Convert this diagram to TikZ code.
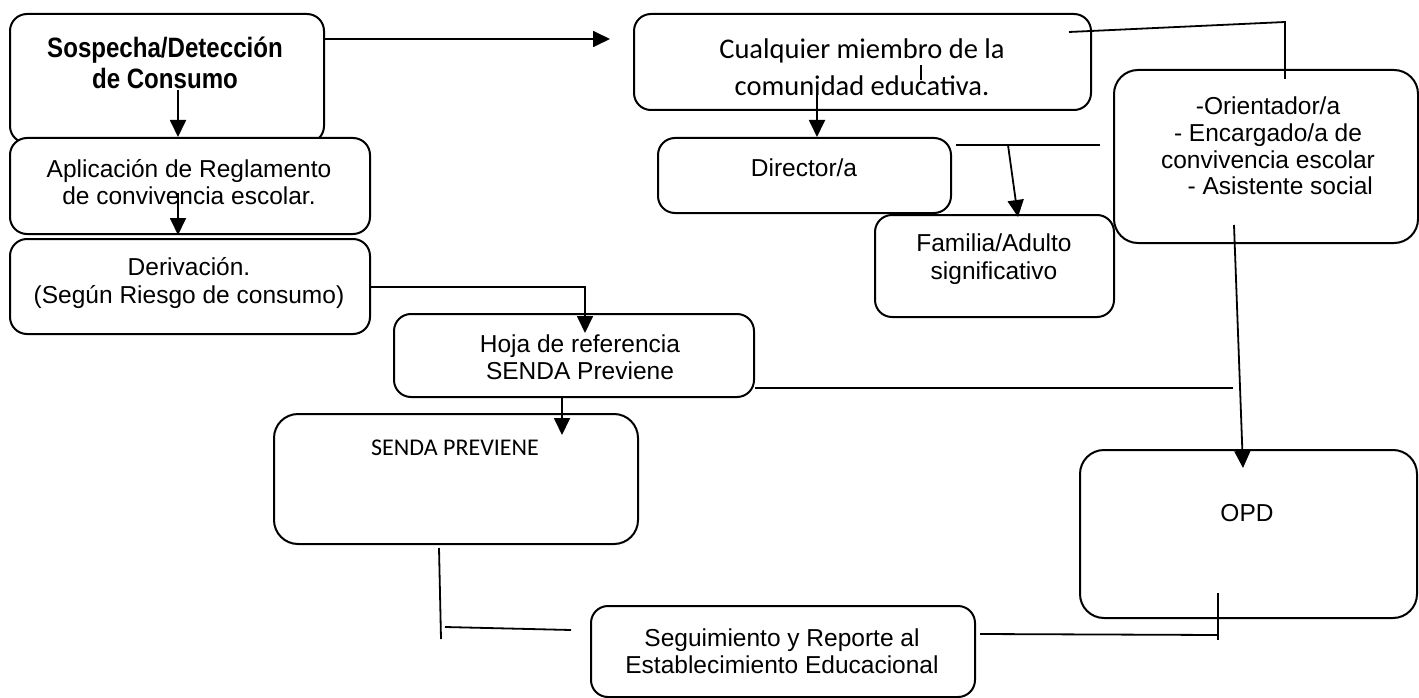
\documentclass[tikz,border=0pt]{standalone}
\usepackage{fontspec}
\setmainfont{Liberation Sans}
\newfontfamily\calib{Carlito}
\usetikzlibrary{arrows.meta}
\tikzset{
  box/.style={draw, line width=2pt, rounded corners=17pt, fill=white, inner sep=0pt, anchor=north west},
  bigbox/.style={box, rounded corners=24pt},
  txt/.style={align=center, inner sep=0pt, font=\fontsize{24.5}{27.5}\selectfont},
  cal/.style={align=center, inner sep=0pt, font=\calib\fontsize{28.5}{37}\selectfont},
  conn/.style={line width=1.8pt},
  arr/.style={line width=1.8pt, -{Triangle[length=17pt,width=16pt]}}
}
\begin{document}
\begin{tikzpicture}[x=1pt,y=-1pt]
\useasboundingbox (0,0) rectangle (1419,698);
\fill[white] (0,0) rectangle (1419,698);

% boxes
\node[box, minimum width=314pt, minimum height=129pt] (sosp) at (9,13) {};
\node[box, minimum width=360pt, minimum height=96pt] (apl) at (9,137) {};
\node[box, minimum width=360pt, minimum height=95pt] (der) at (9,238) {};
\node[box, minimum width=457pt, minimum height=96pt] (cual) at (633,13) {};
\node[box, minimum width=293pt, minimum height=75pt] (dir) at (657,137) {};
\node[box, minimum width=239pt, minimum height=102pt] (fam) at (874,214) {};
\node[bigbox, minimum width=304pt, minimum height=173pt] (ori) at (1113,69) {};
\node[box, minimum width=360pt, minimum height=83pt] (hoja) at (393,313) {};
\node[bigbox, minimum width=364pt, minimum height=130pt] (senda) at (273,413) {};
\node[bigbox, minimum width=337pt, minimum height=168pt] (opd) at (1079,449) {};
\node[box, minimum width=384pt, minimum height=91pt] (seg) at (590,605) {};

% texts
\node[align=center, inner sep=0pt, font=\bfseries\fontsize{28}{32}\selectfont] (tsosp) at (165,67)
  {\scalebox{0.86}[1]{\begin{tabular}{@{}c@{}}Sospecha/Detección\\[-1pt] de Consumo\end{tabular}}};
\node[txt] (tapl) at (189,182) {Aplicación de Reglamento\\de convivencia escolar.};
\node[txt] (tder) at (189,283) {Derivación.\\(Según Riesgo de consumo)};
\node[cal] (tcual) at (862,67) {Cualquier miembro de la\\comunidad educativa.};
\node[txt] (tdir) at (804,168) {Director/a};
\node[txt] (tfam) at (994,259) {Familia/Adulto\\significativo};
\node[txt, font=\fontsize{24.5}{26.7}\selectfont] (tori) at (1268,146)
  {-Orientador/a\\- Encargado/a de\\convivencia escolar\\\hspace*{1em}- Asistente social};
\node[txt] (thoja) at (580,357) {Hoja de referencia\\SENDA Previene};
\node[align=center, inner sep=0pt, font=\calib\fontsize{24}{28}\selectfont] (tsenda) at (455,448) {SENDA PREVIENE};
\node[txt] (topd) at (1247,513) {OPD};
\node[txt] (tseg) at (782,651) {Seguimiento y Reporte al\\Establecimiento Educacional};

% helper coordinates
\coordinate (a1) at (178,90);
\coordinate (a2) at (178,193);
\coordinate (a3s) at (323,39);
\coordinate (a3e) at (610,39);
\coordinate (a4) at (817,93);
\coordinate (l5a) at (1069,32);
\coordinate (l5b) at (1285,22);
\coordinate (l5c) at (1285,79);
\coordinate (tk1) at (921,65);
\coordinate (tk2) at (921,80);
\coordinate (d1) at (956,145);
\coordinate (d2) at (1100,145);
\coordinate (d3) at (1008,145);
\coordinate (d4) at (1018,217);
\coordinate (o1) at (1234,225);
\coordinate (o2) at (1243,468);
\coordinate (h1) at (369,287);
\coordinate (h2) at (585,287);
\coordinate (h3) at (585,333);
\coordinate (s1) at (562,396);
\coordinate (s2) at (562,435);
\coordinate (r1) at (753,388);
\coordinate (r2) at (1233,388);
\coordinate (v1) at (439,548);
\coordinate (v2) at (441,639);
\coordinate (w1) at (445,627);
\coordinate (w2) at (571,630);
\coordinate (e1) at (980,634);
\coordinate (e2) at (1218,635);
\coordinate (f1) at (1218,593);
\coordinate (f2) at (1218,640);

% connectors
\draw[arr] (a1) -- (a1 |- apl.north);
\draw[arr] (a2) -- (178,235);
\draw[arr] (sosp.east |- a3s) -- (a3e);
\draw[arr] (a4) -- (a4 |- dir.north);
\draw[conn] (l5a) -- (l5b) -- (l5c);
\draw[conn, line width=1.2pt] (tk1) -- (tk2);
\draw[conn] (d1) -- (d2);
\draw[arr] (d3) -- (d4);
\draw[arr] (o1) -- (o2);
\draw[arr] (der.east |- h1) -- (h2) -- (h3);
\draw[arr] (s1) -- (s2);
\draw[conn] (hoja.east |- r1) -- (r2);
\draw[conn] (v1) -- (v2);
\draw[conn] (w1) -- (w2);
\draw[conn] (e1) -- (e2);
\draw[conn] (f1) -- (f2);
\end{tikzpicture}
\end{document}
